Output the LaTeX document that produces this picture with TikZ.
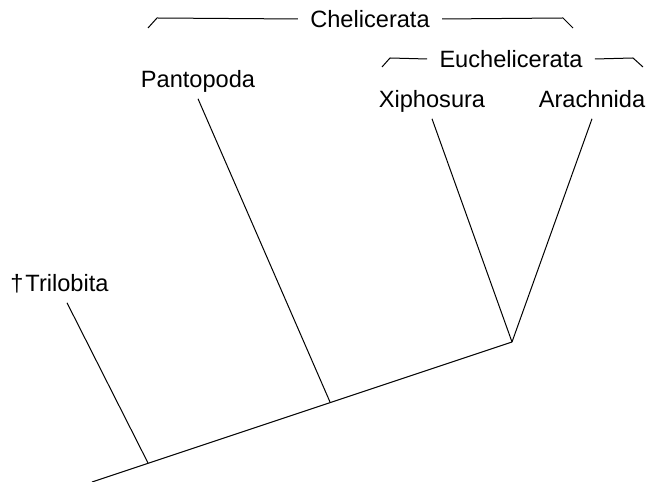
\documentclass[tikz,border=0pt]{standalone}
\usepackage{fontspec}
\setmainfont{Liberation Sans}
\usetikzlibrary{positioning}

\begin{document}
\begin{tikzpicture}[
    x=0.5bp, y=-0.5bp,
    taxon/.style={font=\fontsize{11.8bp}{14bp}\selectfont, inner sep=3bp, text depth=0.22em, anchor=base},
    clade/.style={font=\fontsize{11.8bp}{14bp}\selectfont, inner sep=6bp},
    branch/.style={line width=0.5bp},
    bracket/.style={line width=0.5bp}
]
\useasboundingbox (0,0) rectangle (648,482);

% Verzweigungspunkte
\coordinate (root) at (92,482);
\coordinate (n1) at (148,463);
\coordinate (n2) at (330,402);
\coordinate (n3) at (512,342);

% Taxa
\node[taxon] (trilo) at (67,292) {\llap{†\kern1bp}Trilobita};
\node[taxon] (panto) at (198,88) {Pantopoda};
\node[taxon] (xipho) at (432,108) {Xiphosura};
\node[taxon] (arach) at (592,108) {Arachnida};

% Gruppen
\node[clade] (chel) at (370,19) {Chelicerata};
\node[clade] (euch) at (511,59) {Euchelicerata};
\coordinate (chelL) at (157,18);
\coordinate (chelR) at (563,18);
\coordinate (euchL) at (390,58);
\coordinate (euchR) at (633,58);

% Stamm und Aeste
\draw[branch] (root) -- (n3);
\draw[branch] (n1) -- (trilo.south);
\draw[branch] (n2) -- (panto.south);
\draw[branch] (n3) -- (xipho.south);
\draw[branch] (n3) -- (arach.south);

% Klammern
\draw[bracket] (chel.west) -- (chelL) -- ++(-9,10);
\draw[bracket] (chel.east) -- (chelR) -- ++(10,10);
\draw[bracket] (euch.west) -- (euchL) -- ++(-8,9);
\draw[bracket] (euch.east) -- (euchR) -- ++(10,9);

\end{tikzpicture}
\end{document}
